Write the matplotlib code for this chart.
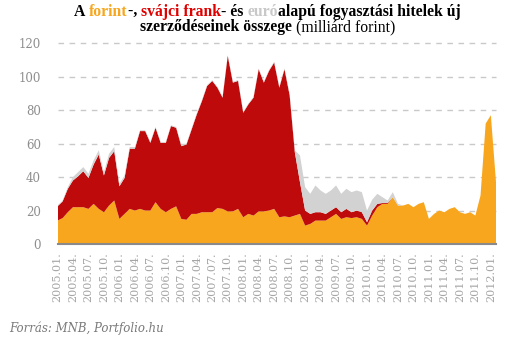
import matplotlib
matplotlib.use("Agg")
import matplotlib.pyplot as plt
import numpy as np

# Monthly new contracts of consumer loans, billion HUF (2005.01 - 2012.02)
huf = [14, 15.5, 19, 22, 22, 22, 21, 24, 21, 19, 23, 26, 15, 18, 21, 20, 21, 20, 20, 25,
       21, 19, 21, 22.5, 15, 14.5, 18, 18, 19, 19, 19, 21.5, 21, 19.5, 19.5, 21, 16, 18, 17, 19.5,
       19.5, 20, 21, 16, 16.5, 16, 17, 18, 11, 12, 14, 14, 14, 16, 18, 15, 16, 15.5, 16, 15,
       11, 17, 22, 24, 24, 28, 23, 23, 24, 22, 24, 25, 15, 18, 20, 19, 21, 22, 19, 18,
       19, 17, 29, 72, 77, 37]
chf = [8.5, 10, 14, 16, 18.5, 21.5, 18.5, 23.5, 32.5, 22, 28.5, 29.5, 19.5, 21.5, 36, 37, 46.5, 47.5, 40.5, 44.5,
       39.5, 41.5, 49.5, 47, 43.5, 45, 50.5, 59.5, 66.5, 75.5, 78.5, 72, 66.5, 93, 77, 76.5, 62.5, 65.5, 70.5, 85,
       77, 83.5, 87.5, 77.5, 88, 73, 38, 19, 9, 6, 5, 5, 4, 4, 4, 4, 5, 3.5, 4, 4,
       2, 3, 2, 0.5, 0.5, 0, 0, 0, 0, 0, 0, 0, 0, 0, 0, 0, 0, 0, 0, 0,
       0, 0, 0, 0, 0, 0]
eur = [0.5, 0.5, 1, 2, 2.5, 2.5, 2.5, 2.5, 2.5, 2, 2.5, 2.5, 1.5, 1.5, 1, 1, 0.5, 0.5, 0.5, 0.5,
       0.5, 0.5, 0.5, 0.5, 0.5, 0.5, 0.5, 0.5, 0.5, 0.5, 0.5, 0.5, 0.5, 0.5, 0.5, 0.5, 0.5, 0.5, 0.5, 0.5,
       0.5, 0.5, 0.5, 0.5, 0.5, 1, 1, 16, 14, 12, 16, 13, 12, 12, 13, 11, 12, 12, 12, 12,
       7, 6.5, 6, 3.5, 1.5, 3, 1, 0, 0, 0, 0, 0, 0, 0, 0, 0, 0, 0, 0, 0,
       0, 0, 0, 0, 0, 0]

months = [f"{2005 + k // 12}.{k % 12 + 1:02d}." for k in range(len(huf))]
tick_idx = list(range(0, len(huf), 3))
yticks = [0, 20, 40, 60, 80, 100, 120]

ORANGE = "#F7A61E"
RED = "#BE0A0A"
GRAY = "#D2D2D2"
TXT_GRAY = "#8E8E8E"

W, H = 531, 342
fig = plt.figure(figsize=(W / 100, H / 100), dpi=100)
ax = fig.add_axes([57.5 / W, (H - 244) / H, (496 - 57.5) / W, (244 - 43.3) / H])

x = np.arange(len(huf))
ax.stackplot(x, huf, chf, eur, colors=[ORANGE, RED, GRAY], linewidth=0)

ax.set_xlim(0, len(huf) - 1)
ax.set_ylim(0, 120)
ax.set_yticks(yticks)
ax.set_yticklabels([str(v) for v in yticks])
ax.set_xticks(tick_idx)
ax.set_xticklabels([months[i] for i in tick_idx], rotation=90, va="top")

for v in yticks[1:]:
    ax.axhline(v, color="#C9C9C9", lw=1, ls=(0, (4, 4)), zorder=0.5, clip_on=False)

for s in ["top", "right", "left"]:
    ax.spines[s].set_visible(False)
ax.spines["bottom"].set_color("#8A8A8A")
ax.spines["bottom"].set_linewidth(1.5)
ax.spines["bottom"].set_zorder(5)

ax.tick_params(axis="y", length=0, pad=12, labelsize=8.5, labelcolor=TXT_GRAY)
ax.tick_params(axis="x", length=0, pad=6, labelsize=8, labelcolor="#A5A5A5")
for lab in ax.get_yticklabels() + ax.get_xticklabels():
    lab.set_fontfamily("DejaVu Serif")

# Title with coloured words
renderer = fig.canvas.get_renderer()
TITLE_FONT = "Liberation Serif"


def advance(s, **kw):
    t1 = fig.text(0, 0, s + "|", **kw)
    t2 = fig.text(0, 0, "|", **kw)
    w = t1.get_window_extent(renderer).width - t2.get_window_extent(renderer).width
    t1.remove()
    t2.remove()
    return w


def rich_line(y_px, pieces, size):
    widths = []
    for text, color, weight in pieces:
        widths.append(advance(text, fontsize=size, fontweight=weight, family=TITLE_FONT))
    total = sum(widths)
    xpos = W / 2 + 2 - total / 2
    for (text, color, weight), w in zip(pieces, widths):
        fig.text(xpos / W, 1 - y_px / H, text, fontsize=size, fontweight=weight,
                 family=TITLE_FONT, color=color, ha="left", va="baseline")
        xpos += w


rich_line(16, [("A ", "black", "bold"), ("forint", ORANGE, "bold"), ("-, ", "black", "bold"),
               ("svájci frank", "#E00000", "bold"), ("- és ", "black", "bold"),
               ("euró", "#C8C8C8", "bold"), ("alapú fogyasztási hitelek új", "black", "bold")], 11.3)
rich_line(31, [("szerződéseinek összege ", "black", "bold"),
               ("(milliárd forint)", "black", "normal")], 11.3)

fig.text(9 / W, 1 - 332 / H, "Forrás: MNB, Portfolio.hu", fontsize=8.5, style="italic",
         family="DejaVu Serif", color="#7A7A7A", ha="left", va="baseline")

fig.savefig("out.png", dpi=100)
